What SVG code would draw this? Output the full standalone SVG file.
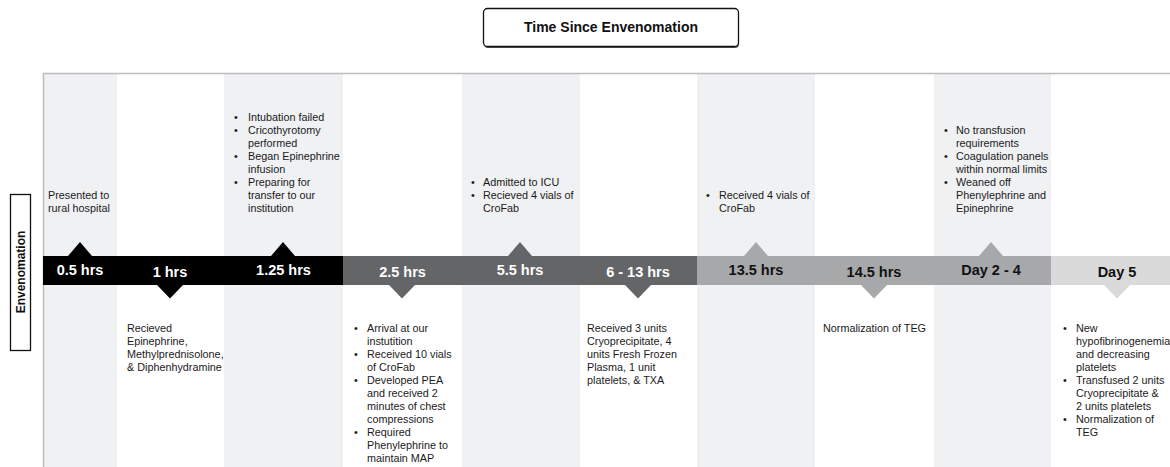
<svg xmlns="http://www.w3.org/2000/svg" width="1170" height="467" viewBox="0 0 1170 467">
  <style>
    .band { fill: #f0f1f3; }
    .frame { stroke: #bdbdbd; stroke-width: 1.5; fill: none; }
    .t { font-family: "Liberation Sans", Arial, sans-serif; font-size: 10.8px; fill: #1a1a1a; }
    .lbl { font-family: "Liberation Sans", Arial, sans-serif; font-size: 14.5px; font-weight: bold; text-anchor: middle; }
    .on-dark { fill: #ffffff; }
    .on-light { fill: #111111; }
    .s1 { fill: #000000; }
    .s2 { fill: #646567; }
    .s3 { fill: #a7a8aa; }
    .s4 { fill: #dadada; }
    .head { font-family: "Liberation Sans", Arial, sans-serif; font-size: 14px; font-weight: bold; fill: #111; text-anchor: middle; }
    .side { font-family: "Liberation Sans", Arial, sans-serif; font-size: 12px; font-weight: bold; fill: #111; text-anchor: middle; }
  </style>

  <rect width="1170" height="467" fill="#ffffff"/>

  <!-- alternating column shading -->
  <g id="columns">
    <rect class="band" x="44" y="74" width="73" height="393"/>
    <rect class="band" x="224" y="74" width="119" height="393"/>
    <rect class="band" x="462" y="74" width="118" height="393"/>
    <rect class="band" x="697" y="74" width="118" height="393"/>
    <rect class="band" x="934" y="74" width="117" height="393"/>
  </g>

  <!-- chart frame -->
  <path class="frame" d="M43.5 467 V73.5 H1170"/>

  <!-- heading -->
  <g id="title">
    <rect x="484" y="10" width="255" height="38" rx="4" fill="#555"/>
    <rect x="483.5" y="8.5" width="255" height="38" rx="4" fill="#fff" stroke="#111" stroke-width="1.3"/>
    <text class="head" x="611" y="31.5">Time Since Envenomation</text>
  </g>

  <!-- side label -->
  <g id="side-label">
    <rect x="10.5" y="194.5" width="20" height="156" fill="#fff" stroke="#111" stroke-width="1.3"/>
    <text class="side" transform="translate(24.5 272) rotate(-90)">Envenomation</text>
  </g>

  <!-- timeline bar segments -->
  <g id="timeline">
    <rect class="s1" x="43" y="256" width="300" height="29"/>
    <rect class="s2" x="343" y="256" width="354" height="29"/>
    <rect class="s3" x="697" y="256" width="354" height="29"/>
    <rect class="s4" x="1051" y="256" width="119" height="29"/>
  </g>

  <!-- events -->
  <g id="t-0-5">
    <path class="s1" d="M68 256 L80 242 L92 256 Z"/>
    <text class="lbl on-dark" x="80" y="275">0.5 hrs</text>
    <text class="t" x="48" y="199">Presented to</text>
    <text class="t" x="48" y="212">rural hospital</text>
  </g>

  <g id="t-1">
    <path class="s1" d="M157 285 L170 298.5 L183 285 Z"/>
    <text class="lbl on-dark" x="170" y="277">1 hrs</text>
    <text class="t" x="127" y="332">Recieved</text>
    <text class="t" x="127" y="345">Epinephrine,</text>
    <text class="t" x="127" y="358">Methylprednisolone,</text>
    <text class="t" x="127" y="371">&amp; Diphenhydramine</text>
  </g>

  <g id="t-1-25">
    <path class="s1" d="M271 256 L283 242 L295 256 Z"/>
    <text class="lbl on-dark" x="283.5" y="275">1.25 hrs</text>
    <text class="t">
      <tspan x="234" y="121">•</tspan><tspan x="248" y="121">Intubation failed</tspan>
      <tspan x="234" y="134">•</tspan><tspan x="248" y="134">Cricothyrotomy</tspan>
      <tspan x="248" y="147">performed</tspan>
      <tspan x="234" y="160">•</tspan><tspan x="248" y="160">Began Epinephrine</tspan>
      <tspan x="248" y="173">infusion</tspan>
      <tspan x="234" y="186">•</tspan><tspan x="248" y="186">Preparing for</tspan>
      <tspan x="248" y="199">transfer to our</tspan>
      <tspan x="248" y="212">institution</tspan>
    </text>
  </g>

  <g id="t-2-5">
    <path class="s2" d="M389 285 L402 298.5 L415 285 Z"/>
    <text class="lbl on-dark" x="402.5" y="277">2.5 hrs</text>
    <text class="t">
      <tspan x="354" y="332">•</tspan><tspan x="367" y="332">Arrival at our</tspan>
      <tspan x="367" y="345">instutition</tspan>
      <tspan x="354" y="358">•</tspan><tspan x="367" y="358">Received 10 vials</tspan>
      <tspan x="367" y="371">of CroFab</tspan>
      <tspan x="354" y="384">•</tspan><tspan x="367" y="384">Developed PEA</tspan>
      <tspan x="367" y="397">and received 2</tspan>
      <tspan x="367" y="410">minutes of chest</tspan>
      <tspan x="367" y="423">compressions</tspan>
      <tspan x="354" y="436">•</tspan><tspan x="367" y="436">Required</tspan>
      <tspan x="367" y="449">Phenylephrine to</tspan>
      <tspan x="367" y="462">maintain MAP</tspan>
    </text>
  </g>

  <g id="t-5-5">
    <path class="s2" d="M508 256 L520 242 L532 256 Z"/>
    <text class="lbl on-dark" x="520" y="275">5.5 hrs</text>
    <text class="t">
      <tspan x="471" y="186">•</tspan><tspan x="483" y="186">Admitted to ICU</tspan>
      <tspan x="471" y="199">•</tspan><tspan x="483" y="199">Recieved 4 vials of</tspan>
      <tspan x="483" y="212">CroFab</tspan>
    </text>
  </g>

  <g id="t-6-13">
    <path class="s2" d="M625 285 L638 298.5 L651 285 Z"/>
    <text class="lbl on-dark" x="638" y="277">6 - 13 hrs</text>
    <text class="t" x="587" y="332">Received 3 units</text>
    <text class="t" x="587" y="345">Cryoprecipitate, 4</text>
    <text class="t" x="587" y="358">units Fresh Frozen</text>
    <text class="t" x="587" y="371">Plasma, 1 unit</text>
    <text class="t" x="587" y="384">platelets, &amp; TXA</text>
  </g>

  <g id="t-13-5">
    <path class="s3" d="M744 256 L756 242 L768 256 Z"/>
    <text class="lbl on-light" x="756" y="275">13.5 hrs</text>
    <text class="t">
      <tspan x="706" y="199">•</tspan><tspan x="719" y="199">Received 4 vials of</tspan>
      <tspan x="719" y="212">CroFab</tspan>
    </text>
  </g>

  <g id="t-14-5">
    <path class="s3" d="M861 285 L874 298.5 L887 285 Z"/>
    <text class="lbl on-light" x="874" y="277">14.5 hrs</text>
    <text class="t" x="823" y="332">Normalization of TEG</text>
  </g>

  <g id="t-day-2-4">
    <path class="s3" d="M979 256 L991 242 L1003 256 Z"/>
    <text class="lbl on-light" x="991" y="275">Day 2 - 4</text>
    <text class="t">
      <tspan x="944" y="134">•</tspan><tspan x="956" y="134">No transfusion</tspan>
      <tspan x="956" y="147">requirements</tspan>
      <tspan x="944" y="160">•</tspan><tspan x="956" y="160">Coagulation panels</tspan>
      <tspan x="956" y="173">within normal limits</tspan>
      <tspan x="944" y="186">•</tspan><tspan x="956" y="186">Weaned off</tspan>
      <tspan x="956" y="199">Phenylephrine and</tspan>
      <tspan x="956" y="212">Epinephrine</tspan>
    </text>
  </g>

  <g id="t-day-5">
    <path class="s4" d="M1104 285 L1117 298.5 L1130 285 Z"/>
    <text class="lbl on-light" x="1117" y="277">Day 5</text>
    <text class="t">
      <tspan x="1063" y="332">•</tspan><tspan x="1076" y="332">New</tspan>
      <tspan x="1076" y="345">hypofibrinogenemia</tspan>
      <tspan x="1076" y="358">and decreasing</tspan>
      <tspan x="1076" y="371">platelets</tspan>
      <tspan x="1063" y="384">•</tspan><tspan x="1076" y="384">Transfused 2 units</tspan>
      <tspan x="1076" y="397">Cryoprecipitate &amp;</tspan>
      <tspan x="1076" y="410">2 units platelets</tspan>
      <tspan x="1063" y="423">•</tspan><tspan x="1076" y="423">Normalization of</tspan>
      <tspan x="1076" y="436">TEG</tspan>
    </text>
  </g>
</svg>
